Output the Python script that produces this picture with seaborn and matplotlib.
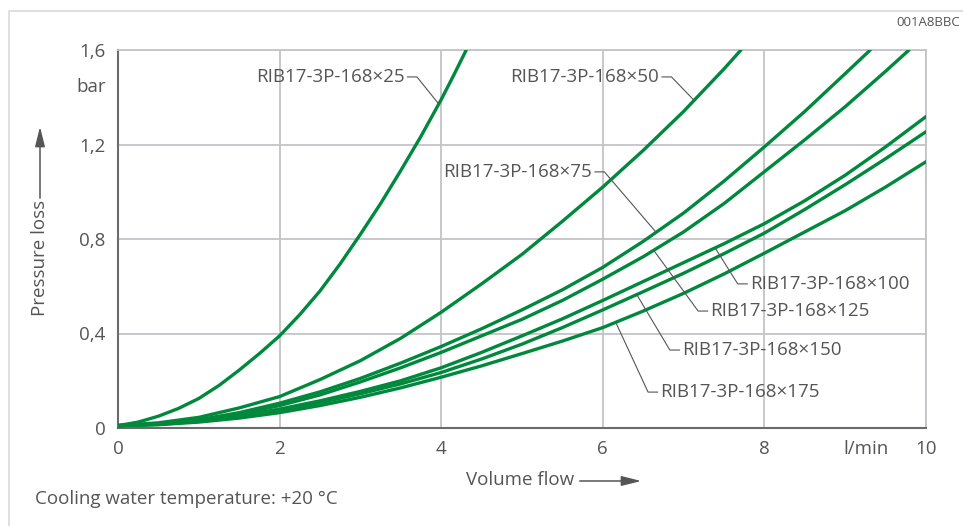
import numpy as np
import pandas as pd
import matplotlib
matplotlib.use('Agg')
import matplotlib.pyplot as plt
import seaborn as sns

# curve data (volume flow l/min -> pressure loss bar)
flow_25 = [0, 0.25, 0.5, 0.75, 1, 1.25, 1.5, 1.75, 2, 2.25, 2.5, 2.75, 3, 3.25, 3.5, 3.75, 4, 4.15, 4.31]
loss_25 = [0.01, 0.025, 0.05, 0.083, 0.125, 0.18, 0.245, 0.315, 0.39, 0.48, 0.58, 0.695, 0.82, 0.95,
           1.09, 1.235, 1.39, 1.49, 1.6]

flow_50 = [0, 0.5, 1, 1.5, 2, 2.5, 3, 3.5, 4, 4.5, 5, 5.5, 6, 6.5, 7, 7.5, 7.71]
loss_50 = [0.01, 0.022, 0.045, 0.085, 0.133, 0.205, 0.285, 0.38, 0.49, 0.61, 0.735, 0.875, 1.02,
           1.175, 1.34, 1.52, 1.6]

flow_75 = [0, 0.5, 1, 1.5, 2, 2.5, 3, 3.5, 4, 4.5, 5, 5.5, 6, 6.5, 7, 7.5, 8, 8.5, 9, 9.31]
loss_75 = [0.01, 0.018, 0.035, 0.065, 0.105, 0.153, 0.21, 0.275, 0.345, 0.42, 0.50, 0.585, 0.68,
           0.79, 0.91, 1.045, 1.19, 1.34, 1.5, 1.6]

flow_125 = [0, 0.5, 1, 1.5, 2, 2.5, 3, 3.5, 4, 4.5, 5, 5.5, 6, 6.5, 7, 7.5, 8, 8.5, 9, 9.5, 9.79]
loss_125 = [0.01, 0.017, 0.033, 0.06, 0.095, 0.14, 0.195, 0.255, 0.32, 0.39, 0.46, 0.54, 0.63,
            0.725, 0.83, 0.95, 1.085, 1.22, 1.36, 1.51, 1.6]

flow_low = [0, 0.5, 1, 1.5, 2, 2.5, 3, 3.5, 4, 4.5, 5, 5.5, 6, 6.5, 7, 7.5, 8, 8.5, 9, 9.5, 10]
loss_100 = [0.01, 0.016, 0.03, 0.052, 0.08, 0.115, 0.155, 0.2, 0.255, 0.32, 0.39, 0.462, 0.54,
            0.62, 0.70, 0.78, 0.865, 0.962, 1.07, 1.19, 1.318]
loss_150 = [0.01, 0.015, 0.028, 0.048, 0.075, 0.107, 0.145, 0.187, 0.235, 0.292, 0.355, 0.425, 0.50,
            0.577, 0.655, 0.738, 0.825, 0.925, 1.03, 1.14, 1.254]
loss_175 = [0.01, 0.014, 0.025, 0.042, 0.065, 0.095, 0.13, 0.17, 0.215, 0.263, 0.315, 0.368, 0.425,
            0.495, 0.57, 0.652, 0.74, 0.83, 0.92, 1.02, 1.127]

models = ['RIB17-3P-168×25', 'RIB17-3P-168×50', 'RIB17-3P-168×75',
          'RIB17-3P-168×100', 'RIB17-3P-168×125', 'RIB17-3P-168×150',
          'RIB17-3P-168×175']
flows = [flow_25, flow_50, flow_75, flow_low, flow_125, flow_low, flow_low]
losses = [loss_25, loss_50, loss_75, loss_100, loss_125, loss_150, loss_175]

# label placement: text anchor (x, y), alignment, flow where the leader hits the curve
label_xy = [(3.55, 1.486), (6.70, 1.486), (5.87, 1.084),
            (7.82, 0.61), (7.33, 0.495), (6.98, 0.33), (6.71, 0.152)]
label_ha = ['right', 'right', 'right', 'left', 'left', 'left', 'left']
leader_x = [3.97, 7.13, 6.66, 7.39, 6.63, 6.42, 6.16]

df = pd.concat([pd.DataFrame({'flow': f, 'loss': l, 'model': m})
                for f, l, m in zip(flows, losses, models)], ignore_index=True)

green = '#00893d'
grey_txt = '#555555'
grid_c = '#c3c3c8'
fs = 13.5

sns.set_style('white')
plt.rcParams['font.family'] = ['Open Sans', 'DejaVu Sans']

fig = plt.figure(figsize=(9.63, 5.26), dpi=100)
ax = fig.add_axes([118 / 963, 1 - 428 / 526, 808 / 963, 378 / 526])

sns.lineplot(data=df, x='flow', y='loss', units='model', estimator=None,
             color=green, lw=2.4, ax=ax, sort=False, legend=False, zorder=3,
             solid_joinstyle='round')

ax.set_xlim(0, 10)
ax.set_ylim(0, 1.6)
ax.set_xticks([0, 2, 4, 6, 8, 10])
ax.set_yticks([0, 0.4, 0.8, 1.2, 1.6])
ax.set_xticklabels(['0', '2', '4', '6', '8', '10'])
ax.set_yticklabels(['0', '0,4', '0,8', '1,2', '1,6'])
ax.set_xlabel('')
ax.set_ylabel('')
ax.grid(True, color=grid_c, lw=1.3)
ax.set_axisbelow(True)
for s in ['top', 'right']:
    ax.spines[s].set_color(grid_c)
    ax.spines[s].set_linewidth(1.3)
for s in ['left', 'bottom']:
    ax.spines[s].set_color('#6b6b6b')
    ax.spines[s].set_linewidth(1.5)
ax.tick_params(axis='both', colors='#6b6b6b', labelcolor=grey_txt,
               labelsize=fs, length=6, width=1.2, direction='out')
ax.tick_params(axis='x', pad=3)
ax.tick_params(axis='y', pad=3)

# curve labels with leader lines
dx = 0.12
for m, f, l, (tx, ty), ha, lx in zip(models, flows, losses, label_xy, label_ha, leader_x):
    ax.text(tx, ty, m, ha=ha, va='center', fontsize=fs, color=grey_txt, zorder=5)
    ly = np.interp(lx, f, l)
    if ha == 'right':
        xs = [tx + 0.03, tx + 0.03 + dx, lx]
    else:
        xs = [tx - 0.03, tx - 0.03 - dx, lx]
    ax.plot(xs, [ty, ty, ly], color=grey_txt, lw=0.8, zorder=4)

# units and axis titles
fig.text(91 / 963, 1 - 87 / 526, 'bar', ha='center', va='center', fontsize=fs, color=grey_txt)
fig.text(866 / 963, 1 - 449 / 526, 'l/min', ha='center', va='center', fontsize=fs, color=grey_txt)
fig.text(40 / 963, 1 - 258 / 526, 'Pressure loss', rotation=90, ha='center', va='center',
         fontsize=fs, color=grey_txt)
fig.text(520 / 963, 1 - 480 / 526, 'Volume flow', ha='center', va='center',
         fontsize=fs, color=grey_txt)
fig.text(35 / 963, 1 - 499 / 526, 'Cooling water temperature: +20 °C', ha='left', va='center',
         fontsize=fs, color=grey_txt)
fig.text(960 / 963, 1 - 23 / 526, '001A8BBC', ha='right', va='center', fontsize=9.5, color=grey_txt)

# axis arrows
fig.add_artist(matplotlib.patches.FancyArrowPatch(
    (577 / 963, 1 - 481 / 526), (644 / 963, 1 - 481 / 526), transform=fig.transFigure,
    arrowstyle='-|>,head_length=12,head_width=3', color=grey_txt, lw=1.1, mutation_scale=1))
fig.add_artist(matplotlib.patches.FancyArrowPatch(
    (40 / 963, 1 - 201 / 526), (40 / 963, 1 - 124 / 526), transform=fig.transFigure,
    arrowstyle='-|>,head_length=12,head_width=3', color=grey_txt, lw=1.1, mutation_scale=1))

# outer frame
fig.add_artist(plt.Line2D([9 / 963, 9 / 963, 1], [0, 1 - 11 / 526, 1 - 11 / 526],
                          transform=fig.transFigure, color='#d9d9d9', lw=1.2))

fig.savefig('out.png', dpi=100)
